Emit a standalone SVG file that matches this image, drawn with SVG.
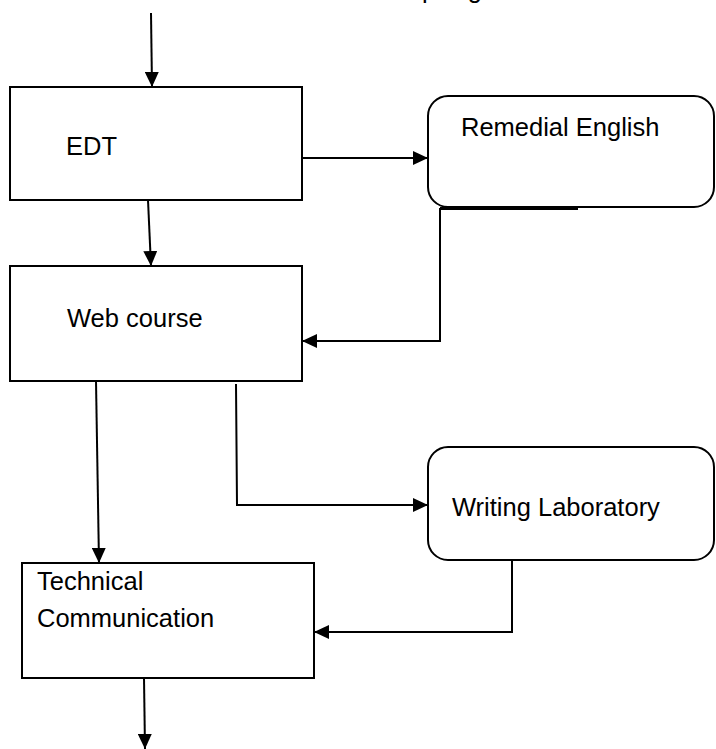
<svg xmlns="http://www.w3.org/2000/svg" width="716" height="749" viewBox="0 0 716 749">
<style>
.box{fill:#fff;stroke:#000;stroke-width:2}
.ln{fill:none;stroke:#000;stroke-width:2}
.t{font-family:"Liberation Sans",Arial,sans-serif;font-size:25.5px;fill:#000}
</style>
<defs>
<marker id="ah" viewBox="0 0 15 14" refX="15" refY="7" markerWidth="15" markerHeight="14" markerUnits="userSpaceOnUse" orient="auto">
<path d="M0,0 L15,7 L0,14 Z" fill="#000"/>
</marker>
</defs>
<text class="t" x="422" y="-2" letter-spacing="3">program</text>
<g id="edt"><rect class="box" x="10" y="87" width="292" height="113"/><text class="t" x="66" y="155">EDT</text></g>
<g id="remedial"><rect class="box" x="428" y="96" width="286" height="111" rx="20" ry="20"/><text class="t" x="461" y="136">Remedial English</text></g>
<g id="web"><rect class="box" x="10" y="266" width="292" height="115"/><text class="t" x="67" y="327">Web course</text></g>
<g id="writing"><rect class="box" x="428" y="447" width="286" height="113" rx="20" ry="20"/><text class="t" x="452" y="516">Writing Laboratory</text></g>
<g id="technical"><rect class="box" x="22" y="563" width="292" height="115"/><text class="t" x="37" y="590">Technical</text><text class="t" x="37" y="627">Communication</text></g>
<g id="connectors">
<path class="ln" d="M151,13 L152,87" marker-end="url(#ah)"/>
<path class="ln" d="M302,158 L428,158" marker-end="url(#ah)"/>
<path class="ln" d="M148,200 L151,266" marker-end="url(#ah)"/>
<path d="M440,208.5 L578,208.5" stroke="#000" stroke-width="3"/>
<path class="ln" d="M440,208 L440,341 L302,341" marker-end="url(#ah)"/>
<path class="ln" d="M96,381 L99,563" marker-end="url(#ah)"/>
<path class="ln" d="M236,384 L237,505 L428,505" marker-end="url(#ah)"/>
<path class="ln" d="M512,560 L512,632 L314,632" marker-end="url(#ah)"/>
<path class="ln" d="M144,678 L145,749" marker-end="url(#ah)"/>
</g>
</svg>
